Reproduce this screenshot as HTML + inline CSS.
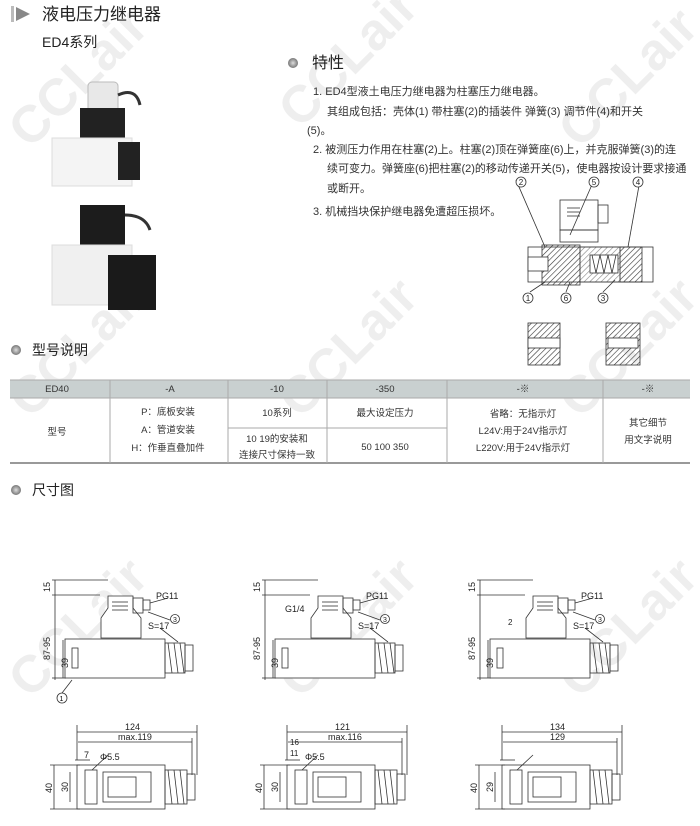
<!DOCTYPE html>
<html><head><meta charset="utf-8"><style>
body{margin:0;background:#fff;}
svg{display:block;font-family:"Liberation Sans","Noto Sans CJK SC",sans-serif;}
</style></head><body>
<svg width="700" height="826" viewBox="0 0 700 826" xmlns="http://www.w3.org/2000/svg">
<defs>
<pattern id="h" width="4" height="4" patternUnits="userSpaceOnUse" patternTransform="rotate(45)"><line x1="0" y1="0" x2="0" y2="4" stroke="#333" stroke-width="1.2"/></pattern>
<radialGradient id="b"><stop offset="0" stop-color="#ddd"/><stop offset="1" stop-color="#777"/></radialGradient>
</defs>
<g fill="#ececec" font-weight="bold" font-size="52" opacity="0.9">
<text transform="translate(30,150) rotate(-45)">CCLair</text>
<text transform="translate(300,130) rotate(-45)">CCLair</text>
<text transform="translate(580,150) rotate(-45)">CCLair</text>
<text transform="translate(30,420) rotate(-45)">CCLair</text>
<text transform="translate(300,420) rotate(-45)">CCLair</text>
<text transform="translate(580,420) rotate(-45)">CCLair</text>
<text transform="translate(30,700) rotate(-45)">CCLair</text>
<text transform="translate(300,700) rotate(-45)">CCLair</text>
<text transform="translate(580,700) rotate(-45)">CCLair</text>
</g>
<rect x="11" y="6" width="3" height="16" fill="#bbb"/>
<polygon points="16,7 30,14 16,21" fill="#888"/>
<text x="42" y="20" font-size="17" fill="#222">液电压力继电器</text>
<text x="42" y="47" font-size="14" fill="#222">ED4系列</text>
<rect x="88" y="82" width="30" height="30" rx="4" fill="#e8e8e8" stroke="#bbb"/>
<rect x="80" y="108" width="45" height="35" fill="#222"/>
<rect x="52" y="138" width="80" height="48" fill="#f4f4f4" stroke="#ddd"/>
<rect x="118" y="142" width="22" height="38" fill="#222"/>
<path d="M118,95 q18,-8 22,10" stroke="#333" stroke-width="3" fill="none"/>
<rect x="80" y="205" width="45" height="48" fill="#1c1c1c"/>
<path d="M125,215 q20,0 25,15" stroke="#333" stroke-width="3" fill="none"/>
<rect x="52" y="245" width="80" height="60" fill="#f0f0f0" stroke="#ddd"/>
<rect x="108" y="255" width="48" height="55" fill="#1a1a1a"/>
<circle cx="293" cy="63" r="5" fill="url(#b)"/>
<text x="312" y="68" font-size="16" fill="#222">特性</text>
<g font-size="11" fill="#333">
<text x="313" y="95">1. ED4型液土电压力继电器为柱塞压力继电器。</text>
<text x="327" y="115">其组成包括：壳体(1)  带柱塞(2)的插装件  弹簧(3)  调节件(4)和开关</text>
<text x="307" y="134">(5)。</text>
<text x="313" y="153">2. 被测压力作用在柱塞(2)上。柱塞(2)顶在弹簧座(6)上，并克服弹簧(3)的连</text>
<text x="327" y="172">续可变力。弹簧座(6)把柱塞(2)的移动传递开关(5)，使电器按设计要求接通</text>
<text x="327" y="192">或断开。</text>
<text x="313" y="215">3. 机械挡块保护继电器免遭超压损坏。</text>
</g>
<g stroke="#333" fill="none" stroke-width="0.8">
<rect x="560" y="200" width="38" height="30" fill="#fff"/>
<rect x="598" y="205" width="10" height="18"/>
<line x1="567" y1="208" x2="580" y2="208"/><line x1="567" y1="212" x2="580" y2="212"/><line x1="567" y1="216" x2="580" y2="216"/>
<rect x="560" y="230" width="38" height="12"/>
<rect x="528" y="247" width="125" height="35" fill="#fff"/>
<rect x="542" y="245" width="38" height="40" fill="url(#h)"/>
<rect x="580" y="247" width="40" height="35" fill="url(#h)" opacity="0.6"/>
<rect x="620" y="247" width="22" height="35" fill="url(#h)"/>
<rect x="528" y="257" width="20" height="14" fill="#fff"/>
<rect x="590" y="255" width="28" height="18" fill="#fff"/>
<path d="M592,255 l4,18 l4,-18 l4,18 l4,-18 l4,18 l4,-18" />
<line x1="516" y1="180" x2="545" y2="247"/>
<line x1="594" y1="180" x2="570" y2="235"/>
<line x1="640" y1="180" x2="628" y2="247"/>
<line x1="530" y1="292" x2="545" y2="282"/>
<line x1="566" y1="292" x2="570" y2="282"/>
<line x1="603" y1="292" x2="615" y2="280"/>
<circle cx="521" cy="182" r="5" fill="#fff"/><circle cx="594" cy="182" r="5" fill="#fff"/><circle cx="638" cy="182" r="5" fill="#fff"/>
<circle cx="528" cy="298" r="5" fill="#fff"/><circle cx="566" cy="298" r="5" fill="#fff"/><circle cx="603" cy="298" r="5" fill="#fff"/>
<rect x="528" y="323" width="32" height="42" fill="url(#h)"/>
<rect x="528" y="338" width="32" height="10" fill="#fff"/>
<rect x="606" y="323" width="34" height="42" fill="url(#h)"/>
<rect x="608" y="338" width="30" height="10" fill="#fff"/>
</g>
<g font-size="8" fill="#222" text-anchor="middle">
<text x="521" y="185">2</text><text x="594" y="185">5</text><text x="638" y="185">4</text>
<text x="528" y="301">1</text><text x="566" y="301">6</text><text x="603" y="301">3</text>
</g>
<circle cx="16" cy="350" r="5" fill="url(#b)"/>
<text x="32" y="355" font-size="14" fill="#222">型号说明</text>
<rect x="10" y="380" width="680" height="18" fill="#c9d0d0"/>
<g stroke="#aaa" stroke-width="1" fill="none">
<line x1="10" y1="380" x2="690" y2="380"/><line x1="10" y1="398" x2="690" y2="398"/>
<line x1="10" y1="463" x2="690" y2="463" stroke="#999" stroke-width="2"/>
<line x1="110" y1="380" x2="110" y2="463"/><line x1="228" y1="380" x2="228" y2="463"/>
<line x1="327" y1="380" x2="327" y2="463"/><line x1="447" y1="380" x2="447" y2="463"/>
<line x1="603" y1="380" x2="603" y2="463"/>
<line x1="228" y1="428" x2="447" y2="428"/>
</g>
<g font-size="9.5" fill="#333" text-anchor="middle">
<text x="57" y="392">ED40</text><text x="170" y="392">-A</text><text x="277" y="392">-10</text>
<text x="385" y="392">-350</text><text x="523" y="392">-※</text><text x="648" y="392">-※</text>
<text x="57" y="435">型号</text>
<text x="168" y="415">P：底板安装</text><text x="168" y="433">A：管道安装</text><text x="168" y="451">H：作垂直叠加件</text>
<text x="277" y="416">10系列</text><text x="385" y="416">最大设定压力</text>
<text x="277" y="442">10  19的安装和</text><text x="277" y="458">连接尺寸保持一致</text>
<text x="385" y="450">50  100  350</text>
<text x="523" y="417">省略：无指示灯</text><text x="523" y="434">L24V:用于24V指示灯</text><text x="523" y="451">L220V:用于24V指示灯</text>
<text x="648" y="426">其它细节</text><text x="648" y="443">用文字说明</text>
</g>
<circle cx="16" cy="490" r="5" fill="url(#b)"/>
<text x="32" y="495" font-size="14" fill="#222">尺寸图</text>
<g id="d1" stroke="#333" fill="none" stroke-width="0.8">
<line x1="52" y1="580" x2="108" y2="580"/><line x1="52" y1="595" x2="100" y2="595"/>
<line x1="55" y1="580" x2="55" y2="680"/>
<line x1="52" y1="678" x2="66" y2="678"/>
<line x1="63" y1="640" x2="63" y2="678"/>
<path d="M108,596 h25 v12 l8,10 v20 h-40 v-20 l7,-10z" fill="#fff"/>
<line x1="112" y1="602" x2="128" y2="602"/><line x1="112" y1="606" x2="128" y2="606"/><line x1="112" y1="610" x2="128" y2="610"/>
<rect x="133" y="598" width="10" height="15"/>
<rect x="143" y="600" width="7" height="10"/>
<rect x="65" y="639" width="100" height="39" fill="#fff"/>
<rect x="72" y="648" width="6" height="20"/>
<rect x="165" y="643" width="20" height="30"/><rect x="185" y="645" width="8" height="26"/>
<path d="M168,643 l4,30 M174,643 l4,30 M180,643 l4,30"/>
<line x1="150" y1="603" x2="168" y2="598"/>
<line x1="148" y1="612" x2="170" y2="620"/>
<line x1="160" y1="628" x2="178" y2="642"/>
<circle cx="175" cy="619" r="4.5"/>
<line x1="77" y1="725" x2="77" y2="760"/><line x1="197" y1="725" x2="197" y2="775"/>
<line x1="77" y1="732" x2="197" y2="732"/><line x1="78" y1="742" x2="192" y2="742"/>
<line x1="192" y1="738" x2="192" y2="775"/>
<line x1="75" y1="760" x2="90" y2="760"/>
<rect x="77" y="765" width="88" height="44" fill="#fff"/>
<rect x="103" y="772" width="48" height="30"/>
<rect x="108" y="777" width="28" height="20"/>
<rect x="85" y="770" width="12" height="34"/>
<rect x="165" y="770" width="22" height="34"/><rect x="187" y="774" width="8" height="26"/>
<path d="M168,770 l4,34 M174,770 l4,34 M180,770 l4,34"/>
<line x1="50" y1="765" x2="80" y2="765"/><line x1="50" y1="809" x2="80" y2="809"/>
<line x1="54" y1="765" x2="54" y2="809"/><line x1="70" y1="772" x2="70" y2="802"/>
<line x1="92" y1="770" x2="108" y2="755"/>
</g>
<g font-size="9" fill="#222">
<text x="156" y="599">PG11</text><text x="148" y="629">S=17</text>
<text x="173" y="622" font-size="7">3</text>
<text transform="translate(50,592) rotate(-90)">15</text>
<text transform="translate(50,660) rotate(-90)">87-95</text>
<text transform="translate(68,668) rotate(-90)">39</text>
<text x="125" y="730">124</text><text x="118" y="740">max.119</text>
<text x="100" y="760">Φ5.5</text>
<text transform="translate(52,793) rotate(-90)">40</text>
<text transform="translate(68,792) rotate(-90)">30</text>
</g>
<text x="84" y="758" font-size="9" fill="#222">7</text>
<circle cx="62" cy="698" r="5" fill="#fff" stroke="#333" stroke-width="0.8"/>
<line x1="62" y1="693" x2="72" y2="680" stroke="#333" stroke-width="0.8"/>
<text x="59.5" y="701" font-size="7">1</text>
<g transform="translate(210,0)">
<use href="#d1"/>
<g font-size="9" fill="#222">
<text x="156" y="599">PG11</text><text x="148" y="629">S=17</text>
<text x="173" y="622" font-size="7">3</text>
<text transform="translate(50,592) rotate(-90)">15</text>
<text transform="translate(50,660) rotate(-90)">87-95</text>
<text transform="translate(68,668) rotate(-90)">39</text>
<text x="125" y="730">121</text><text x="118" y="740">max.116</text>
<text x="95" y="760">Φ5.5</text>
<text transform="translate(52,793) rotate(-90)">40</text>
<text transform="translate(68,792) rotate(-90)">30</text>
<text x="75" y="612">G1/4</text>
<text x="80" y="745" font-size="8">16</text><text x="80" y="756" font-size="8">11</text>
</g>
</g>
<g transform="translate(425,0)">
<use href="#d1"/>
<g font-size="9" fill="#222">
<text x="156" y="599">PG11</text><text x="148" y="629">S=17</text>
<text x="173" y="622" font-size="7">3</text>
<text transform="translate(50,592) rotate(-90)">15</text>
<text transform="translate(50,660) rotate(-90)">87-95</text>
<text transform="translate(68,668) rotate(-90)">39</text>
<text x="125" y="730">134</text><text x="125" y="740">129</text>
<text transform="translate(52,793) rotate(-90)">40</text>
<text transform="translate(68,792) rotate(-90)">29</text>
<text x="83" y="625" font-size="8">2</text>
</g>
</g>
</svg>
</body></html>
